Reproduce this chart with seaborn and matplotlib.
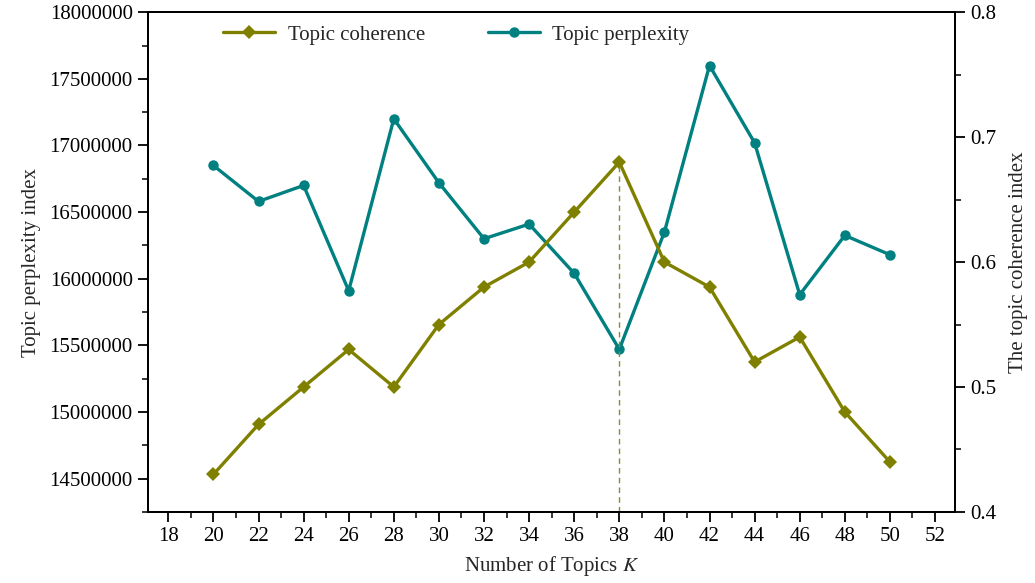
import numpy as np
import pandas as pd
import matplotlib
matplotlib.use("Agg")
import matplotlib.pyplot as plt
from matplotlib.ticker import MultipleLocator
import seaborn as sns

topics = [20, 22, 24, 26, 28, 30, 32, 34, 36, 38, 40, 42, 44, 46, 48, 50]
coherence = [0.43, 0.47, 0.50, 0.53, 0.50, 0.55, 0.58, 0.60, 0.64, 0.68,
             0.60, 0.58, 0.52, 0.54, 0.48, 0.44]
perplexity = [16850000, 16580000, 16700000, 15910000, 17200000, 16720000,
              16300000, 16410000, 16040000, 15470000, 16350000, 17600000,
              17020000, 15880000, 16325000, 16180000]
best_k = 38

df = pd.DataFrame({"K": topics, "coherence": coherence, "perplexity": perplexity})

sns.set_style("ticks")
plt.rcParams["font.family"] = ["Liberation Serif", "DejaVu Serif"]
plt.rcParams["mathtext.fontset"] = "stix"

olive = "#808000"
teal = "#008080"
fs = 15

fig, ax = plt.subplots(figsize=(10.35, 5.83), dpi=100)
fig.subplots_adjust(left=0.143, right=0.923, top=0.979, bottom=0.122)
ax2 = ax.twinx()

sns.lineplot(data=df, x="K", y="perplexity", ax=ax, color=teal, marker="o",
             markersize=7.5, markeredgewidth=0, linewidth=2.4, label="Topic perplexity")
sns.lineplot(data=df, x="K", y="coherence", ax=ax2, color=olive, marker="D",
             markersize=7, markeredgewidth=0, linewidth=2.4, label="Topic coherence")

# dashed marker at best K
best_val = df.loc[df["K"] == best_k, "coherence"].iloc[0]
ax2.plot([best_k, best_k], [0.4, best_val], color="#8a8a3a", linestyle="--",
         linewidth=1, dashes=(4, 3))

ax.set_xlim(17.1, 52.9)
ax.set_ylim(14250000, 18000000)
ax2.set_ylim(0.4, 0.8)

ax.xaxis.set_major_locator(MultipleLocator(2))
ax.xaxis.set_minor_locator(MultipleLocator(1))
ax.yaxis.set_major_locator(MultipleLocator(500000))
ax.yaxis.set_minor_locator(MultipleLocator(250000))
ax2.yaxis.set_major_locator(MultipleLocator(0.1))
ax2.yaxis.set_minor_locator(MultipleLocator(0.05))
ax.ticklabel_format(axis="y", style="plain", useOffset=False)

for a in (ax, ax2):
    a.tick_params(which="major", direction="out", length=7, width=1.3,
                  labelsize=fs, colors="black", pad=4)
    a.tick_params(which="minor", direction="out", length=4, width=1.3)
    for s in a.spines.values():
        s.set_linewidth(1.4)
        s.set_color("black")

ax.set_xlabel("Number of Topics $\\it{K}$", fontsize=fs, labelpad=6)
ax.set_ylabel("Topic perplexity index", fontsize=fs, labelpad=6)
ax2.set_ylabel("The topic coherence index", fontsize=fs, labelpad=9)

ax.get_legend().remove()
h1, l1 = ax.get_legend_handles_labels()
h2, l2 = ax2.get_legend_handles_labels()
ax2.get_legend().remove()
ax2.legend(h2 + h1, l2 + l1, loc="upper left", bbox_to_anchor=(0.07, 1.012),
           ncol=2, frameon=False, fontsize=fs, columnspacing=3.0,
           handlelength=2.5, handletextpad=0.6)

fig.savefig("out.png", dpi=100)
